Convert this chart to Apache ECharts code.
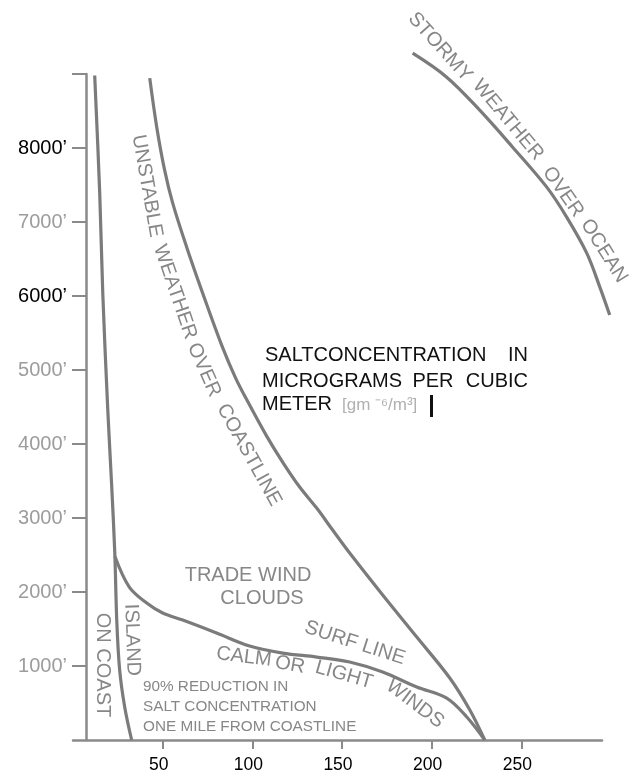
<!DOCTYPE html>
<html>
<head>
<meta charset="utf-8">
<script src="https://cdn.jsdelivr.net/npm/echarts@6/dist/echarts.min.js"></script>
<style>
html,body{margin:0;padding:0;background:#fff;}
#c{width:636px;height:781px;}
</style>
</head>
<body>
<div id="c"></div>
<script>
// ---- data (salt concentration [x] vs altitude in feet [y]) ----
const onCoastIsland = [[12.1,8980],[14.9,7390],[16.6,6040],[19.4,4460],[21.6,3420],[23.3,2530],[24.4,1620],[26.0,950],[28.8,450],[32.7,0]];
const surfLine = [[23.4,2480],[31.4,2067],[41.1,1851],[50.0,1716],[61.2,1621],[80.1,1446],[98.5,1270],[116.9,1175],[135.9,1121],[154.3,1054],[172.7,919],[191.7,716],[208.4,567],[219.6,311],[229.6,0]];
const unstableCoast = [[42.8,8944],[46.7,8282],[51.1,7701],[55.6,7255],[63.4,6660],[72.3,6039],[82.9,5336],[90.7,4891],[98.5,4526],[108.0,4107],[116.9,3756],[126.4,3418],[135.9,3134],[144.8,2837],[154.3,2526],[172.7,1959],[191.7,1391],[210.1,838],[221.3,405],[229.6,0]];
const stormyOcean = [[189.4,9281],[208.4,8957],[226.8,8511],[245.2,8011],[264.2,7471],[275.3,7066],[286.5,6579],[293.8,6120],[299.3,5742]];
const xTickValues = [50,100,150,200,250];
const yTickValues = [1000,2000,3000,4000,5000,6000,7000,8000,9000];
const yLabelValues = [1000,2000,3000,4000,5000,6000,7000,8000];
const yDarkLabels = [6000,8000];

const chart = echarts.init(document.getElementById('c'), null, {renderer:'canvas'});
const GRAY = '#8a8a8a';
const TXT = '#878787';
const LINE = '#7b7b7b';
const FONT = 'Liberation Sans, Arial, sans-serif';

function t(text, x, y, deg, size, color, align) {
  return {
    type:'text', x:x, y:y, rotation: -deg*Math.PI/180, silent:true,
    style:{ text:text, fill: color || TXT, font: size + 'px ' + FONT,
            align: align || 'center', verticalAlign:'middle' }
  };
}

function lineSeries(name, data, idx) {
  return {
    name:name, type:'line', data:data, smooth:0.35, symbol:'none', clip:false,
    xAxisIndex:idx || 0, yAxisIndex:idx || 0,
    lineStyle:{color:LINE, width:3.2}, silent:true
  };
}

const hiddenAxis = {type:'value', show:false, splitLine:{show:false}};

const option = {
  animation:false,
  backgroundColor:'#ffffff',
  grid:[
    {left:73, right:34, top:74, bottom:41, containLabel:false, outerBoundsMode:'none'},
    {left:73, right:7.1, top:37, bottom:41, containLabel:false, outerBoundsMode:'none'}
  ],
  xAxis:[{
    type:'value', min:0, max:295, interval:50, gridIndex:0,
    splitLine:{show:false},
    axisLine:{show:true, lineStyle:{color:GRAY, width:2.5}},
    axisTick:{show:true, customValues:xTickValues, length:9, lineStyle:{color:GRAY, width:2}},
    axisLabel:{customValues:xTickValues, color:'#000', fontSize:17.5, fontFamily:FONT, margin:16, padding:[0,8,0,0]}
  }, Object.assign({gridIndex:1, min:0, max:310}, hiddenAxis)],
  yAxis:[{
    type:'value', min:0, max:9000, interval:1000, offset:-13, gridIndex:0,
    splitLine:{show:false},
    axisLine:{show:true, lineStyle:{color:GRAY, width:2.5}},
    axisTick:{show:true, customValues:yTickValues, length:14, lineStyle:{color:GRAY, width:2}},
    axisLabel:{
      customValues:yLabelValues, margin:19,
      formatter:function(v){ return (yDarkLabels.indexOf(v) >= 0 ? '{k|' : '{g|') + v + '\u2019}'; },
      rich:{
        k:{color:'#000', fontSize:20, fontFamily:FONT},
        g:{color:'#9c9c9c', fontSize:20, fontFamily:FONT}
      }
    }
  }, Object.assign({gridIndex:1, min:0, max:9500}, hiddenAxis)],
  series:[
    lineSeries('On coast / Island', onCoastIsland, 0),
    lineSeries('Surf line', surfLine, 0),
    lineSeries('Unstable weather over coastline', unstableCoast, 0),
    lineSeries('Stormy weather over ocean', stormyOcean, 1)
  ],
  graphic:[
    // curve annotations
    t('UNSTABLE', 147, 186, 80, 20),
    t('WEATHER', 175, 292, 71, 20),
    t('OVER', 204, 370, 66, 20),
    t('COASTLINE', 249, 455, 61, 20),
    t('STORMY', 440, 47, 48, 20),
    t('WEATHER', 508, 120, 50, 20),
    t('OVER', 563, 192, 55, 20),
    t('OCEAN', 604, 251, 58, 20),
    t('TRADE WIND', 248, 575, 0, 20),
    t('CLOUDS', 262, 598, 0, 20),
    t('SURF LINE', 355, 643, 18, 20),
    t('CALM', 244, 657, 7, 20),
    t('OR', 290, 665, 10, 20),
    t('LIGHT', 344, 675, 16, 20),
    t('WINDS', 415, 704, 37, 20),
    t('ON COAST', 103, 665, 90, 20),
    t('ISLAND', 132, 640, 88, 20),
    t('90% REDUCTION IN', 143, 687, 0, 15.3, TXT, 'left'),
    t('SALT CONCENTRATION', 143, 707, 0, 15.3, TXT, 'left'),
    t('ONE MILE FROM COASTLINE', 143, 727, 0, 15.3, TXT, 'left'),
    // axis title block
    t('SALTCONCENTRATION', 265, 355, 0, 20, '#111', 'left'),
    t('IN', 528, 355, 0, 20, '#111', 'right'),
    t('MICROGRAMS', 262, 381, 0, 20, '#111', 'left'),
    t('PER', 433, 381, 0, 20, '#111', 'center'),
    t('CUBIC', 528, 381, 0, 20, '#111', 'right'),
    t('METER', 262, 404, 0, 20, '#111', 'left'),
    t('[gm \u207B\u2076/m\u00B3]', 342, 405, 0, 17, '#b0b0b0', 'left'),
    {type:'rect', shape:{x:430, y:395, width:3, height:22}, style:{fill:'#111'}, silent:true}
  ]
};
chart.setOption(option);
</script>
</body>
</html>
